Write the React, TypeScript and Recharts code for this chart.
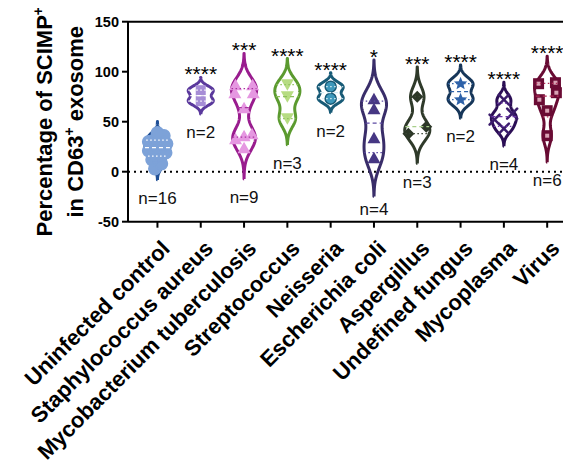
import React from 'react';
import { ComposedChart, XAxis, YAxis, Scatter, ReferenceLine } from 'recharts';

// ---- data ----
const categories = [
  'Uninfected control',
  'Staphylococcus aureus',
  'Mycobacterium tuberculosis',
  'Streptococcus',
  'Neisseria',
  'Escherichia coli',
  'Aspergillus',
  'Undefined fungus',
  'Mycoplasma',
  'Virus',
];

const uninfectedControl = [3, 8, 12, 15, 17, 19, 21, 23, 25, 26, 28, 30, 32, 34, 36, 39];
const staphylococcusAureus = [70.5, 81.5];
const mycobacteriumTuberculosis = [24, 33, 36, 38, 64, 79, 79, 87, 87];
const streptococcus = [53, 75, 87];
const neisseria = [73, 85];
const escherichiaColi = [14, 34, 63, 73];
const aspergillus = [38, 45, 75];
const undefinedFungus = [72, 88];
const mycoplasma = [43, 52, 58, 72];
const virus = [36, 61, 72, 79, 88, 89];

const significance = ['', '****', '***', '****', '****', '*', '***', '****', '****', '****'];
const yTicks = [-50, 0, 50, 100, 150];

const groups = [
  uninfectedControl,
  staphylococcusAureus,
  mycobacteriumTuberculosis,
  streptococcus,
  neisseria,
  escherichiaColi,
  aspergillus,
  undefinedFungus,
  mycoplasma,
  virus,
];

// ---- styling ----
const FONT = '"Liberation Sans", Arial, Helvetica, sans-serif';
const CHART_W = 563;
const CHART_H = 456;
const PLOT_TOP = 13.7;
const PLOT_BOTTOM = 213.7;
const Y_AXIS_W = 120;
const X_AXIS_H = CHART_H - PLOT_BOTTOM;
const HALF_WIDTH = 0.29;
const TAIL = 3.0; // violin tails run this many bandwidths past the data
const COUNT_FLOOR = -19; // lowest anchor for the n= labels, keeps them above the x axis

type Marker = 'circle' | 'square' | 'triangleUp' | 'triangleDown' | 'diamond' | 'star' | 'cross' | 'squareHole';
type GroupStyle = {
  outline: string;
  fill: string;
  stroke?: string;
  marker: Marker;
  median: string;
  quartile: string;
  inner?: string;
};

const groupStyles: GroupStyle[] = [
  { outline: '#1F4F96', fill: '#7DA2D8', marker: 'circle', median: '#FFFFFF', quartile: '#FFFFFF' },
  { outline: '#5A389C', fill: '#A68DD6', marker: 'square', median: '#FFFFFF', quartile: '#FFFFFF' },
  { outline: '#991C8E', fill: '#E597E1', marker: 'triangleUp', median: '#A8329E', quartile: '#A8329E' },
  { outline: '#5B9A2F', fill: '#B6DC82', marker: 'triangleDown', median: '#8CC05A', quartile: '#8CC05A' },
  { outline: '#175A76', fill: '#3D98BB', stroke: '#175A76', marker: 'circle', median: '#D6EEF6', quartile: '#D6EEF6' },
  { outline: '#392D69', fill: '#463783', marker: 'triangleUp', median: '#5D4BA3', quartile: '#5D4BA3' },
  { outline: '#2F3A2A', fill: '#2C3727', marker: 'diamond', median: '#A8CF8A', quartile: '#3A4534' },
  { outline: '#163659', fill: '#2E62A9', marker: 'star', median: '#2E62A9', quartile: '#2E62A9' },
  { outline: '#2B0E55', fill: '#3B1C6C', marker: 'cross', median: '#6A33A8', quartile: '#6A33A8' },
  { outline: '#680B33', fill: '#6A0B34', marker: 'squareHole', median: '#B02B57', quartile: '#B02B57', inner: '#D9A3B5' },
];

// ---- violin geometry (kernel density of each group) ----
type Pt = { x: number; y: number };

function quantile(sorted: number[], p: number) {
  const n = sorted.length;
  const r = Math.min(Math.max((n + 1) * p, 1), n);
  const lo = Math.floor(r);
  const hi = Math.ceil(r);
  return sorted[lo - 1] + (r - lo) * (sorted[hi - 1] - sorted[lo - 1]);
}

function buildViolin(values: number[], index: number) {
  const sorted = [...values].sort((a, b) => a - b);
  const n = sorted.length;
  const mean = sorted.reduce((a, b) => a + b, 0) / n;
  const sd = Math.sqrt(sorted.reduce((a, b) => a + (b - mean) ** 2, 0) / (n - 1));
  const bw = 0.63 * sd * Math.pow(n, -0.2);
  const lo = sorted[0] - TAIL * bw;
  const hi = sorted[n - 1] + TAIL * bw;
  const density = (y: number) =>
    sorted.reduce((acc, v) => acc + Math.exp(-0.5 * ((y - v) / bw) ** 2), 0);

  const steps = 160;
  const ys = Array.from({ length: steps + 1 }, (_, k) => lo + ((hi - lo) * k) / steps);
  const ds = ys.map(density);
  const dmax = Math.max(...ds);
  const halfAt = (y: number) => (density(y) / dmax) * HALF_WIDTH;

  const right: Pt[] = ys.map((y, k) => ({ x: index + (ds[k] / dmax) * HALF_WIDTH, y }));
  const left: Pt[] = ys.map((y, k) => ({ x: index - (ds[k] / dmax) * HALF_WIDTH, y })).reverse();
  const outline = [...right, ...left, right[0]];

  const quartiles = [0.25, 0.5, 0.75].map((p) => {
    const v = quantile(sorted, p);
    return { median: p === 0.5, points: [{ x: index - halfAt(v), y: v }, { x: index + halfAt(v), y: v }] };
  });

  // points spread across the violin, row by row
  const pts: Pt[] = [];
  let k = 0;
  while (k < n) {
    let j = k;
    while (j + 1 < n && sorted[j + 1] - sorted[k] <= 7) j++;
    const m = j - k + 1;
    for (let t = k; t <= j; t++) {
      const frac = m === 1 ? 0 : -1 + (2 * (t - k)) / (m - 1);
      pts.push({ x: index + frac * 0.75 * halfAt(sorted[t]), y: sorted[t] });
    }
    k = j + 1;
  }

  return { outline, quartiles, pts, top: hi, bottom: lo, n };
}

const violins = groups.map((g, i) => buildViolin(g, i));

// ---- marker shapes ----
function starPath(cx: number, cy: number, r: number) {
  const pts: string[] = [];
  for (let k = 0; k < 10; k++) {
    const rad = k % 2 === 0 ? r : r * 0.45;
    const a = -Math.PI / 2 + (k * Math.PI) / 5;
    pts.push(`${cx + rad * Math.cos(a)},${cy + rad * Math.sin(a)}`);
  }
  return `M${pts.join('L')}Z`;
}

function makeMarker(s: GroupStyle) {
  return (props: any) => {
    const { cx, cy } = props;
    if (cx == null || cy == null) return <g />;
    const stroke = s.stroke ?? s.fill;
    switch (s.marker) {
      case 'circle':
        return <circle cx={cx} cy={cy} r={s.stroke ? 5.5 : 6} fill={s.fill} stroke={stroke} strokeWidth={1.5} />;
      case 'square':
        return <rect x={cx - 5} y={cy - 5} width={10} height={10} fill={s.fill} />;
      case 'triangleUp':
        return <polygon points={`${cx},${cy - 6} ${cx + 6.5},${cy + 5.5} ${cx - 6.5},${cy + 5.5}`} fill={s.fill} />;
      case 'triangleDown':
        return <polygon points={`${cx},${cy + 6} ${cx + 6.5},${cy - 5.5} ${cx - 6.5},${cy - 5.5}`} fill={s.fill} />;
      case 'diamond':
        return <polygon points={`${cx},${cy - 6} ${cx + 6},${cy} ${cx},${cy + 6} ${cx - 6},${cy}`} fill={s.fill} />;
      case 'star':
        return <path d={starPath(cx, cy, 7)} fill={s.fill} />;
      case 'cross':
        return (
          <g stroke={s.fill} strokeWidth={2.5} strokeLinecap="round">
            <line x1={cx - 5} y1={cy - 5} x2={cx + 5} y2={cy + 5} />
            <line x1={cx - 5} y1={cy + 5} x2={cx + 5} y2={cy - 5} />
          </g>
        );
      case 'squareHole':
        return (
          <g>
            <rect x={cx - 5.5} y={cy - 5.5} width={11} height={11} fill={s.fill} />
            <rect x={cx - 2} y={cy - 2} width={4} height={4} fill={s.inner} />
          </g>
        );
      default:
        return <g />;
    }
  };
}

const noShape = () => <g />;

// ---- axis renderers ----
const CategoryTick = (props: any) => {
  const { x, y, payload } = props;
  const px = x + 2.5;
  const py = y + 9;
  return (
    <text
      x={px}
      y={py}
      dy="0.72em"
      transform={`rotate(-45 ${px} ${py})`}
      textAnchor="end"
      fontFamily={FONT}
      fontWeight="bold"
      fontSize={22}
      fill="#000"
    >
      {categories[payload.value]}
    </text>
  );
};

const YTitle = () => {
  const cy = (PLOT_TOP + PLOT_BOTTOM) / 2;
  const common = { fontFamily: FONT, fontWeight: 'bold' as const, fontSize: 22, fill: '#000', textAnchor: 'middle' as const };
  return (
    <g>
      <text x={44} y={cy} transform={`rotate(-90 44 ${cy})`} {...common}>
        Percentage of SCIMP
        <tspan fontSize={14} dy={-9}>+</tspan>
      </text>
      <text x={75} y={cy} transform={`rotate(-90 75 ${cy})`} {...common}>
        in CD63
        <tspan fontSize={14} dy={-9}>+</tspan>
        <tspan dy={9}> exosome</tspan>
      </text>
    </g>
  );
};

const starsData = violins
  .map((v, i) => ({ x: i, y: v.top, text: significance[i] }))
  .filter((d) => d.text !== '');
const countData = violins.map((v, i) => ({ x: i, y: Math.max(v.bottom, COUNT_FLOOR), text: `n=${v.n}` }));

const StarsLabel = (props: any) => {
  const { cx, cy, payload } = props;
  if (cx == null) return <g />;
  return (
    <text x={cx} y={cy + 4} textAnchor="middle" fontFamily={FONT} fontSize={21} fill="#000">
      {payload.text}
    </text>
  );
};

const CountLabel = (props: any) => {
  const { cx, cy, payload } = props;
  if (cx == null) return <g />;
  return (
    <text x={cx} y={cy + 24} textAnchor="middle" fontFamily={FONT} fontSize={17} fill="#111">
      {payload.text}
    </text>
  );
};

export default function App() {
  return (
    <ComposedChart
      width={CHART_W}
      height={CHART_H}
      margin={{ top: PLOT_TOP, right: 0, bottom: 0, left: 0 }}
      style={{ fontFamily: FONT }}
    >
      <XAxis
        type="number"
        dataKey="x"
        domain={[-0.68, 9.55]}
        ticks={[0, 1, 2, 3, 4, 5, 6, 7, 8, 9]}
        interval={0}
        height={X_AXIS_H}
        axisLine={{ stroke: '#000', strokeWidth: 2 }}
        tickLine={{ stroke: '#000', strokeWidth: 2 }}
        tickSize={6}
        tick={<CategoryTick />}
      />
      <YAxis
        type="number"
        dataKey="y"
        domain={[-50, 150]}
        ticks={yTicks}
        interval={0}
        width={Y_AXIS_W}
        axisLine={{ stroke: '#000', strokeWidth: 2 }}
        tickLine={{ stroke: '#000', strokeWidth: 2 }}
        tickSize={6}
        tickMargin={3}
        tick={{ fontSize: 14.5, fontWeight: 'bold', fill: '#000', fontFamily: FONT }}
        label={{ content: () => <YTitle /> }}
      />
      <ReferenceLine y={150} stroke="#000" strokeWidth={2} />
      <ReferenceLine y={0} stroke="#000" strokeWidth={2} strokeDasharray="2 4" />

      {violins.map((v, i) => (
        <Scatter
          key={`outline-${i}`}
          data={v.outline}
          dataKey="y"
          line={{ stroke: groupStyles[i].outline, strokeWidth: 3, strokeLinejoin: 'round', fill: 'none' }}
          shape={noShape}
          isAnimationActive={false}
        />
      ))}

      {violins.map((v, i) => (
        <Scatter
          key={`points-${i}`}
          data={v.pts}
          dataKey="y"
          shape={makeMarker(groupStyles[i])}
          isAnimationActive={false}
        />
      ))}

      {violins.flatMap((v, i) =>
        v.quartiles.map((q, k) => (
          <Scatter
            key={`q-${i}-${k}`}
            data={q.points}
            dataKey="y"
            line={{
              stroke: q.median ? groupStyles[i].median : groupStyles[i].quartile,
              strokeWidth: 1.3,
              strokeDasharray: q.median ? '4 3' : '1.5 2.5',
            }}
            shape={noShape}
            isAnimationActive={false}
          />
        ))
      )}

      <Scatter data={starsData} dataKey="y" shape={StarsLabel} isAnimationActive={false} />
      <Scatter data={countData} dataKey="y" shape={CountLabel} isAnimationActive={false} />
    </ComposedChart>
  );
}
